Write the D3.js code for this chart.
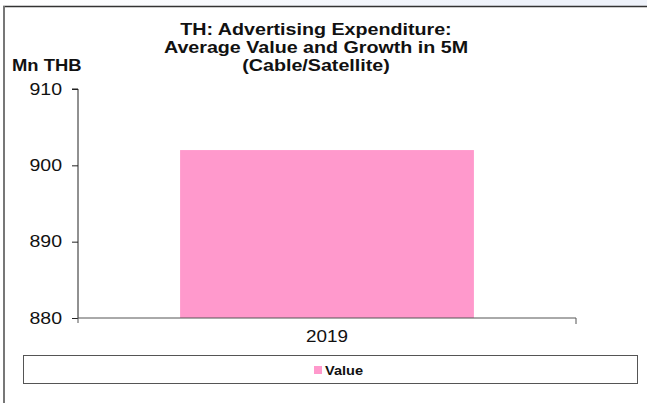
<!DOCTYPE html>
<html>
<head>
<meta charset="utf-8">
<script src="https://cdn.jsdelivr.net/npm/d3@7"></script>
<style>
  body { margin: 0; background: #fff; }
  text { font-family: "Liberation Sans", Arial, sans-serif; }
</style>
</head>
<body>
<div id="chart"></div>
<script>
"use strict"

// chart data
var categories = ["2019"];
var values = [902];
var yTicks = [880, 890, 900, 910];
var seriesName = "Value";
var titleLines = ["TH: Advertising Expenditure:", "Average Value and Growth in 5M", "(Cable/Satellite)"];

var width = 647,
    height = 403,
    plotLeft = 78,
    plotRight = 576,
    plotTop = 89,
    plotBottom = 318,
    pink = '#ff99cc',
    fontFam = '"Liberation Sans", Arial, sans-serif';

var svg = d3.select('#chart').append('svg')
    .attr('width', width)
    .attr('height', height);

// the original text is drawn a bit wide, so stretch it horizontally
function stretch(sel, s){
    sel.each(function(){
        var t = d3.select(this),
            x0 = +t.attr('x') || 0;
        t.attr('x', 0).attr('transform', 'translate(' + x0 + ',0) scale(' + s + ',1)');
    });
}

// faint page strip above the frame
var grad = svg.append('defs').append('linearGradient').attr('id', 'strip');
grad.append('stop').attr('offset', '0%').attr('stop-color', '#ffffff');
grad.append('stop').attr('offset', '80%').attr('stop-color', '#eef2fa');
svg.append('rect').attr('x', 0).attr('y', 0).attr('width', width).attr('height', 6)
    .style('fill', 'url(#strip)');

// outer frame
svg.append('line').attr('x1', 3).attr('x2', width).attr('y1', 6.5).attr('y2', 6.5)
    .style('stroke', '#333').style('stroke-width', 1.5);
svg.append('line').attr('x1', 4).attr('x2', 4).attr('y1', 6).attr('y2', height)
    .style('stroke', '#777').style('stroke-width', 2);

var x = d3.scaleBand().domain(categories).range([plotLeft, plotRight]).paddingInner(0).paddingOuter(0);
var y = d3.scaleLinear().domain([880, 910]).range([plotBottom, plotTop]);

// bars
var barW = x.bandwidth() * 0.59;
svg.selectAll('.bar').data(values).enter().append('rect')
    .attr('class', 'bar')
    .attr('x', function (d, i) { return x(categories[i]) + (x.bandwidth() - barW) / 2; })
    .attr('y', function (d) { return y(d); })
    .attr('width', barW)
    .attr('height', function (d) { return y(880) - y(d); })
    .style('fill', pink);

// y axis
var yAxis = svg.append('g').attr('transform', 'translate(' + plotLeft + ',0)')
    .call(d3.axisLeft(y).tickValues(yTicks).tickSize(6).tickPadding(10).tickFormat(d3.format('d')));
yAxis.select('.domain').attr('d', 'M-6,' + plotTop + 'H0V' + plotBottom).style('stroke', '#222');
yAxis.selectAll('.tick line').style('stroke', '#222');
yAxis.selectAll('.tick text').style('font-size', '16px').style('fill', '#111')
    .style('font-family', fontFam)
    .call(stretch, 1.22);

// x axis
var xAxis = svg.append('g').attr('transform', 'translate(0,' + plotBottom + ')')
    .call(d3.axisBottom(x).tickSize(0).tickPadding(13));
xAxis.select('.domain').attr('d', 'M' + plotLeft + ',5V0H' + plotRight + 'V6').style('stroke', '#555');
xAxis.selectAll('.tick text').style('font-size', '16px').style('fill', '#111')
    .style('font-family', fontFam)
    .call(stretch, 1.18);

// title
var title = svg.append('text')
    .attr('x', 316).attr('y', 35)
    .attr('text-anchor', 'middle')
    .style('font-size', '16px').style('font-weight', 'bold').style('fill', '#111');
title.selectAll('tspan').data(titleLines).enter().append('tspan')
    .attr('x', 0)
    .attr('dy', function (d, i) { return i === 0 ? 0 : 18; })
    .text(function (d) { return d; });
title.call(stretch, 1.23);

// unit label
svg.append('text')
    .attr('x', 12).attr('y', 71)
    .style('font-size', '16px').style('font-weight', 'bold').style('fill', '#111')
    .text('Mn THB')
    .call(stretch, 1.15);

// legend
var legend = svg.append('g');
legend.append('rect')
    .attr('x', 23.5).attr('y', 355.5).attr('width', 614).attr('height', 28)
    .style('fill', '#fff').style('stroke', '#555').style('stroke-width', 1);
legend.append('rect')
    .attr('x', 314).attr('y', 366).attr('width', 8).attr('height', 8)
    .style('fill', pink);
legend.append('text')
    .attr('x', 325).attr('y', 375)
    .style('font-size', '13px').style('font-weight', 'bold').style('fill', '#111')
    .text(seriesName)
    .call(stretch, 1.12);
</script>
</body>
</html>
